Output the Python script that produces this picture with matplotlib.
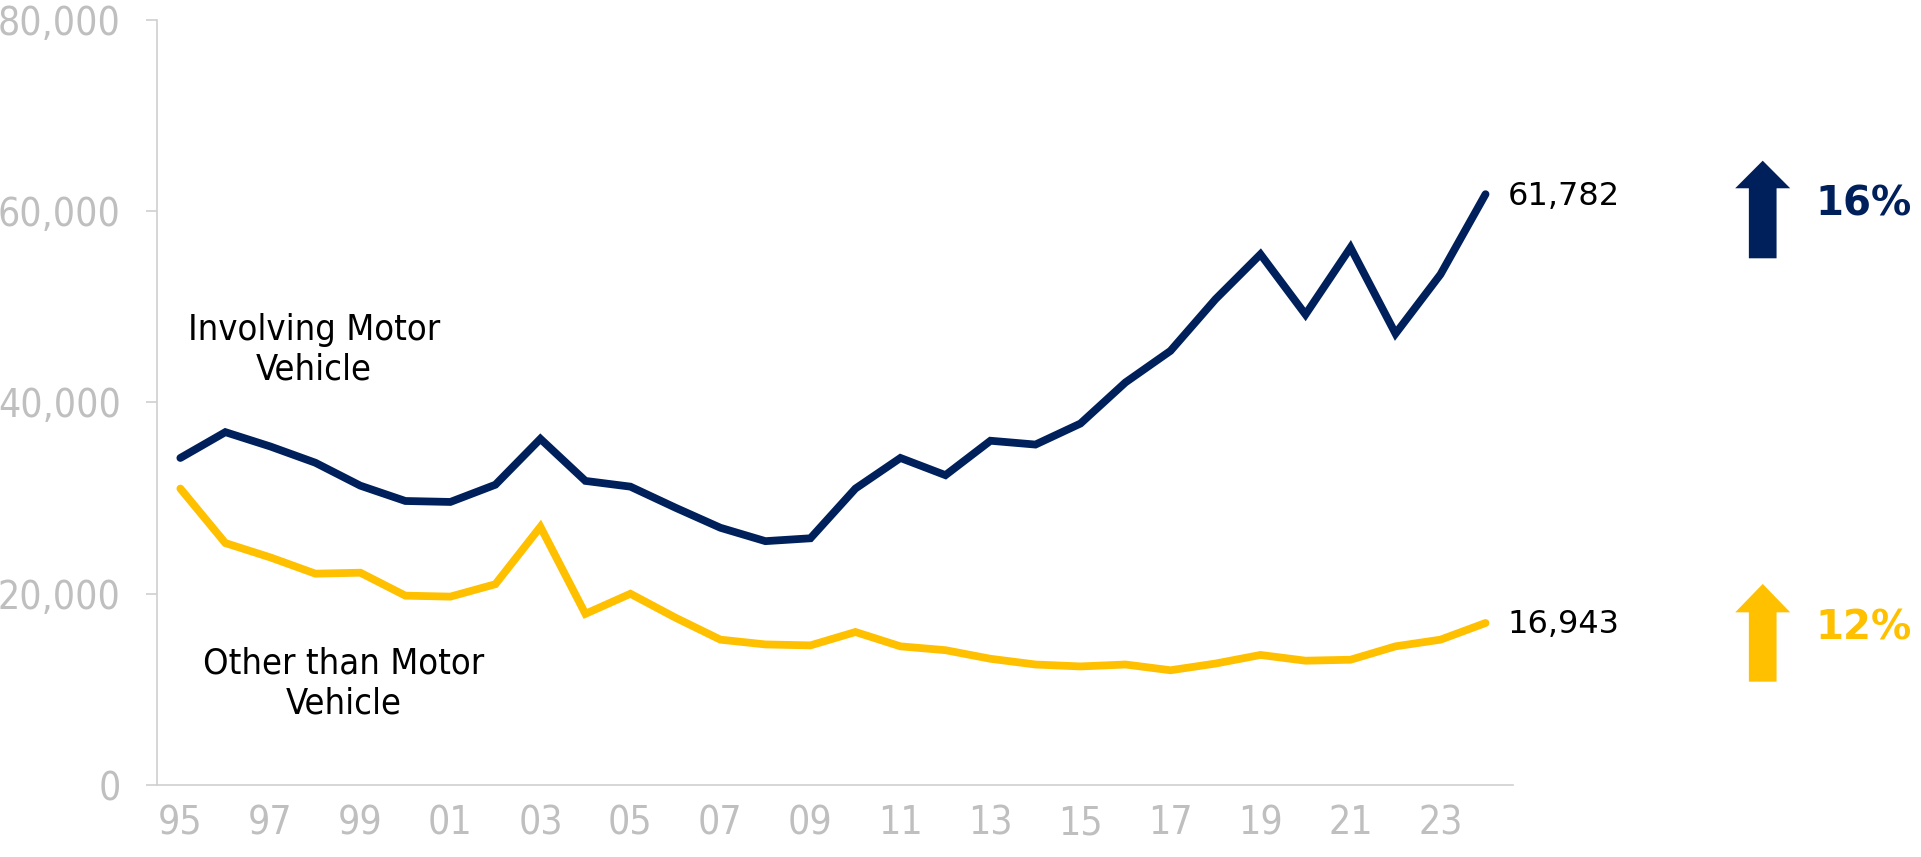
import matplotlib
matplotlib.use("Agg")
import matplotlib.pyplot as plt
from matplotlib.patches import Polygon
from matplotlib.ticker import FuncFormatter

years = list(range(1995, 2025))
tick_labels = ["95", "97", "99", "01", "03", "05", "07", "09", "11", "13", "15", "17", "19", "21", "23"]
motor = [34200, 36900, 35400, 33700, 31300, 29700, 29600, 31400, 36200, 31800,
         31200, 29000, 26900, 25500, 25800, 31000, 34200, 32400, 36000, 35600,
         37800, 42100, 45400, 50800, 55500, 49200, 56200, 47200, 53400, 61782]
other = [31000, 25300, 23800, 22100, 22200, 19800, 19700, 21000, 27000, 17900,
         20000, 17500, 15200, 14700, 14600, 16000, 14500, 14100, 13200, 12600,
         12400, 12600, 12000, 12700, 13600, 13000, 13100, 14500, 15200, 16943]
series_names = ["Involving Motor\nVehicle", "Other than Motor\nVehicle"]
changes = ["16%", "12%"]

NAVY = "#00205B"
GOLD = "#FFC000"
GRAY = "#BFBFBF"

fig = plt.figure(figsize=(19.21, 8.57), dpi=100)
ax = fig.add_axes([0.0817, 0.0840, 0.7059, 0.8927])

x = list(range(len(years)))
ax.plot(x, motor, color=NAVY, lw=5.6, solid_capstyle="round", solid_joinstyle="miter")
ax.plot(x, other, color=GOLD, lw=5.6, solid_capstyle="round", solid_joinstyle="miter")

ax.set_xlim(-0.52, 29.61)
ax.set_ylim(0, 80000)
ax.set_yticks([0, 20000, 40000, 60000, 80000])
ax.yaxis.set_major_formatter(FuncFormatter(lambda v, p: f"{int(v):,}"))
ax.set_xticks(list(range(0, 30, 2)))
ax.set_xticklabels(tick_labels)

for s in ["top", "right"]:
    ax.spines[s].set_visible(False)
for s in ["left", "bottom"]:
    ax.spines[s].set_color("#D0D0D0")
    ax.spines[s].set_linewidth(1.2)

ax.tick_params(axis="y", direction="out", length=8, width=1.2, color="#D0D0D0",
               labelcolor=GRAY, labelsize=28, pad=18)
ax.tick_params(axis="x", length=0, labelcolor=GRAY, labelsize=28, pad=14)
for lab in ax.get_xticklabels() + ax.get_yticklabels():
    lab.set_fontstretch("condensed")

# series labels
ax.text(2.97, 45500, series_names[0], ha="center", va="center", fontsize=26,
        color="black", fontstretch="condensed", linespacing=1.2)
ax.text(3.63, 10600, series_names[1], ha="center", va="center", fontsize=26,
        color="black", fontstretch="condensed", linespacing=1.2)

# end labels
ax.annotate(f"{motor[-1]:,}", xy=(x[-1], motor[-1]), xytext=(22, -2),
            textcoords="offset pixels", ha="left", va="center", fontsize=23, color="black")
ax.annotate(f"{other[-1]:,}", xy=(x[-1], other[-1]), xytext=(22, -2),
            textcoords="offset pixels", ha="left", va="center", fontsize=23, color="black")

# arrows
def up_arrow(cx, top, bottom, head_base, color):
    hw, sw = 0.01432, 0.00721
    pts = [(cx, top), (cx + hw, head_base), (cx + sw, head_base), (cx + sw, bottom),
           (cx - sw, bottom), (cx - sw, head_base), (cx - hw, head_base)]
    fig.patches.append(Polygon(pts, closed=True, transform=fig.transFigure,
                               facecolor=color, edgecolor="none"))

up_arrow(0.9176, 0.8125, 0.6986, 0.7803, NAVY)
up_arrow(0.9176, 0.3186, 0.2046, 0.2855, GOLD)

fig.text(0.970, 0.7614, changes[0], ha="center", va="center", fontsize=29,
         fontweight="bold", color=NAVY)
fig.text(0.970, 0.2665, changes[1], ha="center", va="center", fontsize=29,
         fontweight="bold", color=GOLD)

fig.savefig("out.png", dpi=100)
